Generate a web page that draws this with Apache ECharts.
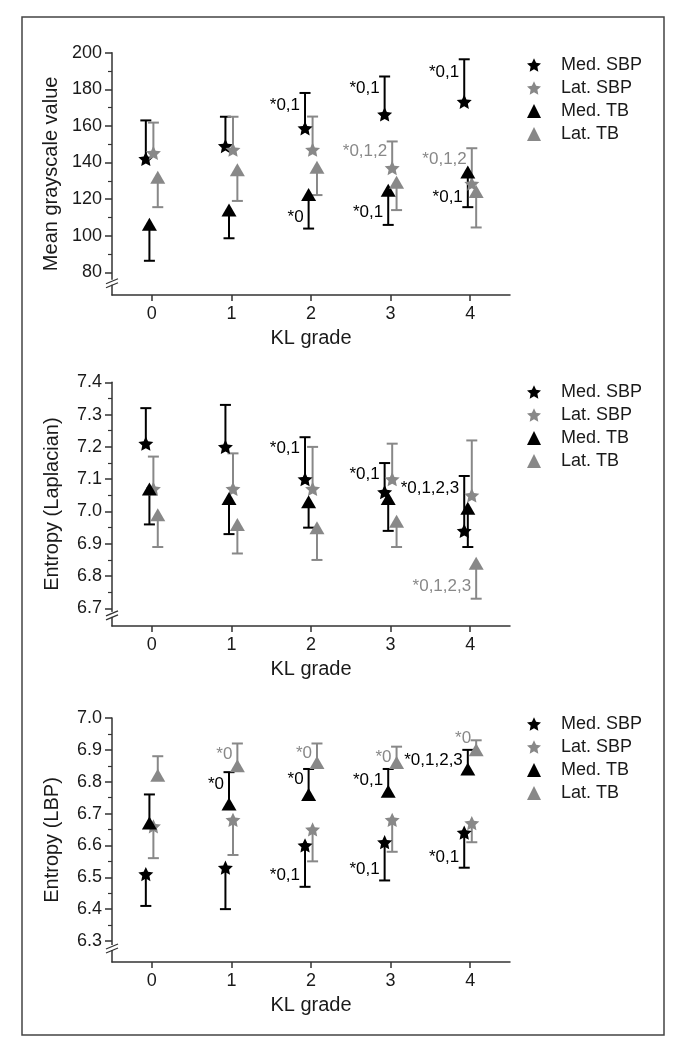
<!DOCTYPE html>
<html>
<head>
<meta charset="utf-8">
<script src="https://cdn.jsdelivr.net/npm/echarts@6/dist/echarts.min.js"></script>
<style>
html,body{margin:0;padding:0;background:#fff;}
#chart{width:682px;height:1049px;}
</style>
</head>
<body>
<div id="chart"></div>
<script>
// ---------- data ----------
const grades = [0, 1, 2, 3, 4];
const seriesNames = ['Med. SBP', 'Lat. SBP', 'Med. TB', 'Lat. TB'];
const xTicks = [0, 1, 2, 3, 4];

// Panel 1: Mean grayscale value
const gsMedSBP = [142, 149, 158.7, 166.3, 173.2];
const gsMedSBPBar = [163, 165, 178, 187, 196.4];
const gsLatSBP = [145.2, 147, 147, 137, 128.4];
const gsLatSBPBar = [161.8, 165, 165.1, 151.5, 147.8];
const gsMedTB = [106.2, 114, 122.5, 124.9, 134.8];
const gsMedTBBar = [86.3, 98.6, 103.9, 105.9, 115.6];
const gsLatTB = [132, 136, 137.4, 129.2, 124.2];
const gsLatTBBar = [115.6, 119, 122.2, 114, 104.5];
const gsTicks = [80, 100, 120, 140, 160, 180, 200];
const gsMinorTicks = [90, 110, 130, 150, 170, 190];
const gsNotes = [
  [2, 0, 171.4, '*0,1'], [3, 0, 180.5, '*0,1'], [4, 0, 189.5, '*0,1'],
  [2, 2, 109.9, '*0'], [3, 2, 112.6, '*0,1'], [4, 2, 121, '*0,1'],
  [3, 1, 146.1, '*0,1,2'], [4, 1, 141.6, '*0,1,2']
];

// Panel 2: Entropy (Laplacian)
const lapMedSBP = [7.21, 7.20, 7.10, 7.06, 6.94];
const lapMedSBPBar = [7.32, 7.33, 7.23, 7.15, 7.11];
const lapLatSBP = [7.07, 7.07, 7.07, 7.10, 7.05];
const lapLatSBPBar = [7.17, 7.18, 7.20, 7.21, 7.22];
const lapMedTB = [7.07, 7.04, 7.03, 7.04, 7.01];
const lapMedTBBar = [6.96, 6.93, 6.95, 6.94, 6.89];
const lapLatTB = [6.99, 6.96, 6.95, 6.97, 6.84];
const lapLatTBBar = [6.89, 6.87, 6.85, 6.89, 6.73];
const lapTicks = [6.7, 6.8, 6.9, 7.0, 7.1, 7.2, 7.3, 7.4];
const lapMinorTicks = [6.75, 6.85, 6.95, 7.05, 7.15, 7.25, 7.35];
const lapNotes = [
  [2, 0, 7.196, '*0,1'], [3, 0, 7.115, '*0,1'], [4, 0, 7.072, '*0,1,2,3'],
  [4, 3, 6.767, '*0,1,2,3']
];

// Panel 3: Entropy (LBP)
const lbpMedSBP = [6.51, 6.53, 6.60, 6.61, 6.64];
const lbpMedSBPBar = [6.41, 6.40, 6.47, 6.49, 6.53];
const lbpLatSBP = [6.66, 6.68, 6.65, 6.68, 6.67];
const lbpLatSBPBar = [6.56, 6.57, 6.55, 6.58, 6.61];
const lbpMedTB = [6.67, 6.73, 6.76, 6.77, 6.84];
const lbpMedTBBar = [6.76, 6.83, 6.84, 6.84, 6.90];
const lbpLatTB = [6.82, 6.85, 6.86, 6.86, 6.90];
const lbpLatTBBar = [6.88, 6.92, 6.92, 6.91, 6.93];
const lbpTicks = [6.3, 6.4, 6.5, 6.6, 6.7, 6.8, 6.9, 7.0];
const lbpMinorTicks = [6.35, 6.45, 6.55, 6.65, 6.75, 6.85, 6.95];
const lbpNotes = [
  [1, 3, 6.887, '*0'], [2, 3, 6.89, '*0'], [3, 3, 6.877, '*0'], [4, 3, 6.937, '*0'],
  [1, 2, 6.793, '*0'], [2, 2, 6.806, '*0'], [3, 2, 6.804, '*0,1'], [4, 2, 6.866, '*0,1,2,3'],
  [2, 0, 6.507, '*0,1'], [3, 0, 6.525, '*0,1'], [4, 0, 6.564, '*0,1']
];

// axis-break positions (value on each y axis)
const breakAt = [74.3, 6.68, 6.278];

// ---------- styling / layout ----------
const FONT = "'Liberation Sans', Arial, sans-serif";
const BLACK = '#000000';
const GRAY = '#888888';
const AXIS = '#333333';
const colors = [BLACK, GRAY, BLACK, GRAY];
const xOffsets = [-0.075, 0.02, -0.03, 0.075];
const STAR = 'path://M50,0 L64.11,30.58 L97.55,34.55 L72.82,57.42 L79.39,90.45 L50,74 L20.61,90.45 L27.18,57.42 L2.45,34.55 L35.89,30.58 Z';
const symbols = [STAR, STAR, 'triangle', 'triangle'];
const symSizes = [[15, 15], [15, 15], [15, 13], [15, 13]];

const panels = [
  { name: 'Mean grayscale value', vals: [gsMedSBP, gsLatSBP, gsMedTB, gsLatTB],
    bars: [gsMedSBPBar, gsLatSBPBar, gsMedTBBar, gsLatTBBar], ticks: gsTicks, minor: gsMinorTicks,
    notes: gsNotes, min: 67.6, max: 200, dec: 0, top: 52.7, height: 242.3, legendTop: 56 },
  { name: 'Entropy (Laplacian)', vals: [lapMedSBP, lapLatSBP, lapMedTB, lapLatTB],
    bars: [lapMedSBPBar, lapLatSBPBar, lapMedTBBar, lapLatTBBar], ticks: lapTicks, minor: lapMinorTicks,
    notes: lapNotes, min: 6.6455, max: 7.4, dec: 1, top: 382.3, height: 243.7, legendTop: 383 },
  { name: 'Entropy (LBP)', vals: [lbpMedSBP, lbpLatSBP, lbpMedTB, lbpLatTB],
    bars: [lbpMedSBPBar, lbpLatSBPBar, lbpMedTBBar, lbpLatTBBar], ticks: lbpTicks, minor: lbpMinorTicks,
    notes: lbpNotes, min: 6.234, max: 7.0, dec: 1, top: 718, height: 244, legendTop: 715 }
];

const grid = [], xAxis = [], yAxis = [], series = [], legend = [];

panels.forEach((p, pi) => {
  grid.push({ left: 112, width: 398, top: p.top, height: p.height });
  xAxis.push({
    gridIndex: pi, type: 'value', min: -0.5, max: 4.5,
    name: 'KL grade', nameLocation: 'middle', nameGap: 33,
    nameTextStyle: { fontFamily: FONT, fontSize: 20, color: '#1a1a1a' },
    axisLine: { show: true, onZero: false, lineStyle: { color: AXIS, width: 1.5 } },
    axisTick: { show: true, customValues: xTicks, length: 6, lineStyle: { color: AXIS, width: 1.5 } },
    axisLabel: { customValues: xTicks, margin: 10, fontFamily: FONT, fontSize: 18, color: '#1a1a1a' },
    splitLine: { show: false }
  });
  yAxis.push({
    gridIndex: pi, type: 'value', min: p.min, max: p.max, position: 'left',
    name: p.name, nameLocation: 'middle', nameGap: 50,
    nameTextStyle: { fontFamily: FONT, fontSize: 20, color: '#1a1a1a' },
    axisLine: { show: true, onZero: false, lineStyle: { color: AXIS, width: 1.5 } },
    axisTick: { show: true, customValues: p.ticks, length: 7, lineStyle: { color: AXIS, width: 1.5 } },
    axisLabel: { customValues: p.ticks, margin: 10, fontFamily: FONT, fontSize: 18, color: '#1a1a1a',
      formatter: v => Number(v).toFixed(p.dec) },
    splitLine: { show: false }
  });
  yAxis.push({
    gridIndex: pi, type: 'value', min: p.min, max: p.max, position: 'left', offset: 0,
    axisLine: { show: false, onZero: false },
    axisTick: { show: true, customValues: p.minor, length: 4, lineStyle: { color: AXIS, width: 1.2 } },
    axisLabel: { show: false },
    splitLine: { show: false }
  });
  const yIdx = pi * 2;

  // error bars
  seriesNames.forEach((nm, si) => {
    series.push({
      type: 'custom', name: nm + ' error', xAxisIndex: pi, yAxisIndex: yIdx, z: 2,
      clip: false, silent: true,
      data: grades.map((g, k) => [g + xOffsets[si], p.vals[si][k], p.bars[si][k]]),
      renderItem: (params, api) => {
        const a = api.coord([api.value(0), api.value(1)]);
        const b = api.coord([api.value(0), api.value(2)]);
        const st = { stroke: colors[si], lineWidth: 2 };
        return { type: 'group', children: [
          { type: 'line', shape: { x1: a[0], y1: a[1], x2: b[0], y2: b[1] }, style: st },
          { type: 'line', shape: { x1: b[0] - 5.5, y1: b[1], x2: b[0] + 5.5, y2: b[1] }, style: st }
        ] };
      }
    });
  });
  // markers
  seriesNames.forEach((nm, si) => {
    series.push({
      type: 'scatter', name: nm, xAxisIndex: pi, yAxisIndex: yIdx, z: 5 + si,
      symbol: symbols[si], symbolSize: symSizes[si], symbolKeepAspect: si < 2,
      itemStyle: { color: colors[si], opacity: 1 },
      data: grades.map((g, k) => [g + xOffsets[si], p.vals[si][k]])
    });
  });
  // annotations
  series.push({
    type: 'custom', name: 'notes', xAxisIndex: pi, yAxisIndex: yIdx, z: 10, clip: false, silent: true,
    data: p.notes.map(n => [n[0] + xOffsets[n[1]], n[2], n[1]]),
    renderItem: (params, api) => {
      const pt = api.coord([api.value(0), api.value(1)]);
      const note = p.notes[params.dataIndex];
      return { type: 'text', x: pt[0] - 5, y: pt[1],
        style: { text: note[3], fill: colors[note[1]], font: '17px ' + FONT, align: 'right', verticalAlign: 'middle' } };
    }
  });
  // axis break marks
  series.push({
    type: 'custom', name: 'break', xAxisIndex: pi, yAxisIndex: yIdx, z: 12, clip: false, silent: true,
    data: [[-0.5, breakAt[pi]]],
    renderItem: (params, api) => {
      const pt = api.coord([api.value(0), api.value(1)]);
      const st = { stroke: AXIS, lineWidth: 1.3 };
      return { type: 'group', children: [
        { type: 'rect', shape: { x: pt[0] - 2, y: pt[1] - 3, width: 4, height: 5 }, style: { fill: '#fff' } },
        { type: 'line', shape: { x1: pt[0] - 6, y1: pt[1] + 1, x2: pt[0] + 6, y2: pt[1] - 4 }, style: st },
        { type: 'line', shape: { x1: pt[0] - 6, y1: pt[1] + 5, x2: pt[0] + 6, y2: pt[1] }, style: st }
      ] };
    }
  });

  legend.push({
    orient: 'vertical', left: 527, top: p.legendTop, padding: 0,
    itemWidth: 14, itemHeight: 14, itemGap: 5, selectedMode: false,
    textStyle: { fontFamily: FONT, fontSize: 18, color: '#1a1a1a', lineHeight: 18, padding: [0, 0, 0, 15] },
    data: seriesNames.map((nm, si) => ({ name: nm, icon: symbols[si] }))
  });
});

const chart = echarts.init(document.getElementById('chart'), null, { renderer: 'canvas' });
chart.setOption({
  backgroundColor: '#ffffff',
  animation: false,
  grid, xAxis, yAxis, series, legend,
  graphic: [{
    type: 'rect', shape: { x: 22, y: 17, width: 642, height: 1018 },
    style: { fill: 'none', stroke: '#444', lineWidth: 1.5 }, silent: true, z: 0
  }]
});
</script>
</body>
</html>
